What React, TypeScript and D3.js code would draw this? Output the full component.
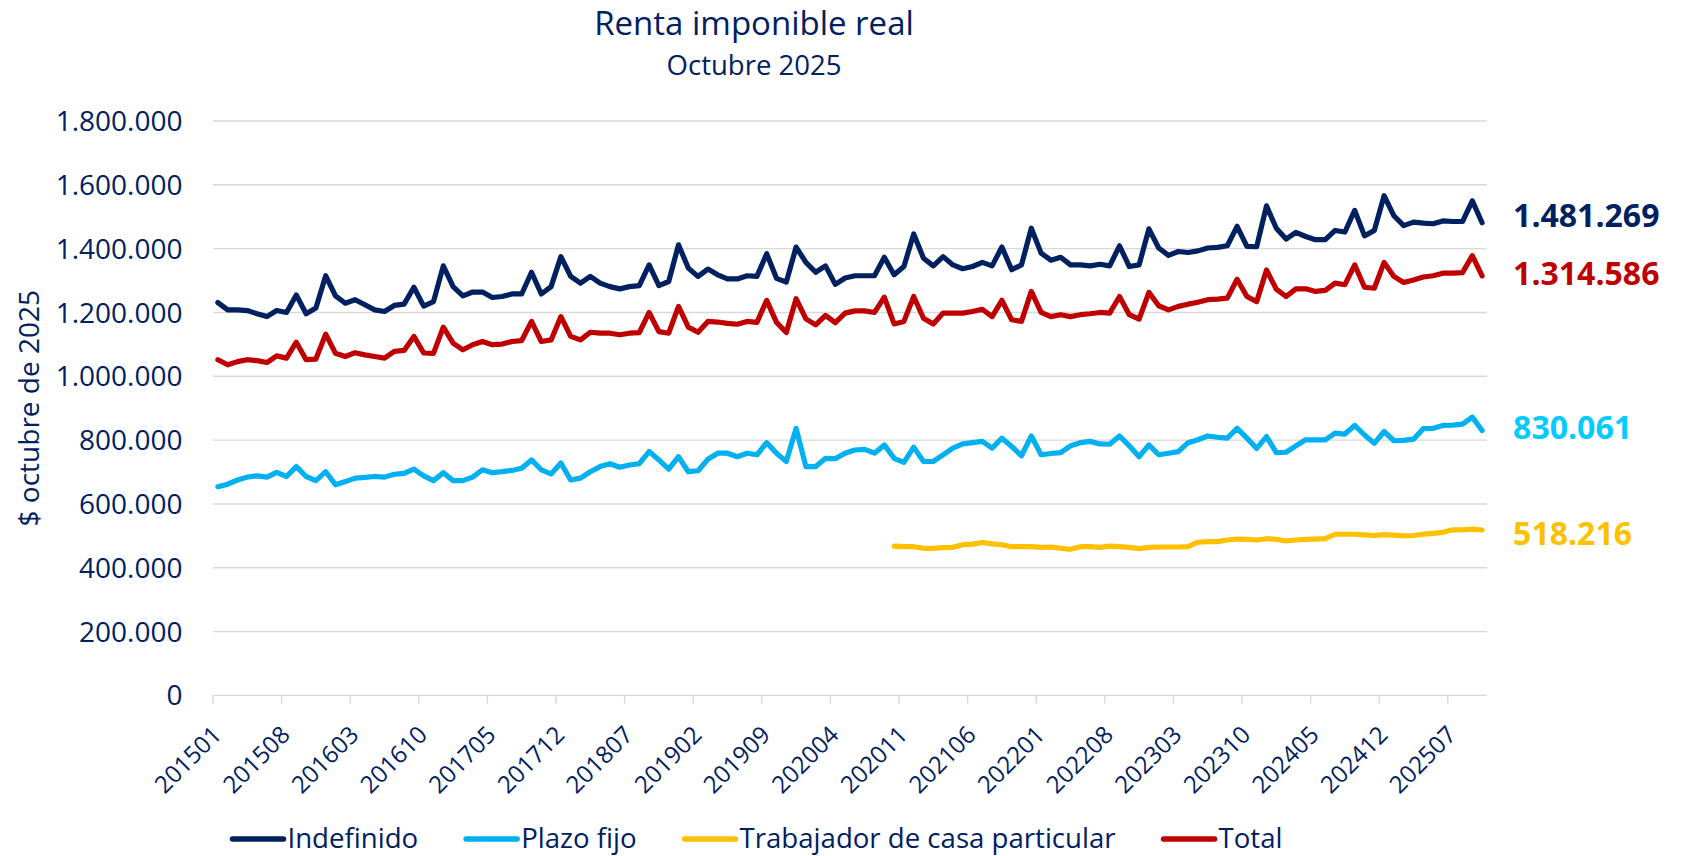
import React, { useEffect, useRef } from 'react';
import * as d3 from 'd3';

// monthly periods 201501 .. 202510
const periods: string[] = [];
for (let year = 2015; year <= 2025; year++) {
  for (let month = 1; month <= 12; month++) {
    if (year === 2025 && month > 10) break;
    periods.push(`${year}${month < 10 ? '0' : ''}${month}`);
  }
}

const tickLabels = [
  '201501', '201508', '201603', '201610', '201705', '201712', '201807', '201902', '201909', '202004',
  '202011', '202106', '202201', '202208', '202303', '202310', '202405', '202412', '202507',
];

const yTicks = [0, 200000, 400000, 600000, 800000, 1000000, 1200000, 1400000, 1600000, 1800000];

const indefinido = [
  1231000, 1208000, 1208000, 1206000, 1196000, 1187000, 1206000, 1200000, 1255000, 1196000,
  1214000, 1315000, 1252000, 1229000, 1240000, 1224000, 1208000, 1203000, 1222000, 1226000,
  1279000, 1220000, 1234000, 1346000, 1281000, 1252000, 1264000, 1264000, 1247000, 1250000,
  1258000, 1258000, 1326000, 1258000, 1281000, 1375000, 1313000, 1292000, 1313000, 1292000,
  1281000, 1274000, 1281000, 1284000, 1349000, 1284000, 1297000, 1412000, 1339000, 1313000,
  1336000, 1318000, 1305000, 1305000, 1315000, 1313000, 1384000, 1307000, 1295000, 1405000,
  1357000, 1326000, 1346000, 1288000, 1308000, 1315000, 1315000, 1315000, 1373000, 1318000,
  1344000, 1446000, 1370000, 1346000, 1375000, 1349000, 1337000, 1344000, 1357000, 1346000,
  1405000, 1334000, 1349000, 1464000, 1386000, 1364000, 1373000, 1349000, 1349000, 1346000,
  1351000, 1346000, 1409000, 1344000, 1349000, 1462000, 1402000, 1379000, 1391000, 1388000,
  1393000, 1402000, 1404000, 1409000, 1470000, 1407000, 1406000, 1534000, 1464000, 1430000,
  1451000, 1438000, 1428000, 1428000, 1457000, 1452000, 1520000, 1440000, 1457000, 1566000,
  1503000, 1472000, 1483000, 1480000, 1478000, 1487000, 1485000, 1485000, 1550000, 1481269,
];

const plazoFijo = [
  654000, 662000, 675000, 684000, 688000, 684000, 699000, 686000, 717000, 686000,
  673000, 701000, 660000, 670000, 681000, 683000, 686000, 684000, 693000, 696000,
  709000, 688000, 673000, 698000, 673000, 673000, 684000, 707000, 698000, 701000,
  705000, 712000, 738000, 707000, 694000, 728000, 675000, 681000, 701000, 717000,
  726000, 715000, 722000, 726000, 764000, 738000, 709000, 748000, 701000, 704000,
  740000, 759000, 759000, 748000, 759000, 754000, 792000, 759000, 733000, 837000,
  717000, 717000, 743000, 742000, 759000, 769000, 771000, 759000, 785000, 743000,
  730000, 778000, 733000, 733000, 754000, 775000, 788000, 792000, 796000, 775000,
  806000, 780000, 751000, 813000, 754000, 758000, 761000, 782000, 792000, 796000,
  788000, 787000, 813000, 782000, 748000, 785000, 754000, 759000, 764000, 792000,
  801000, 813000, 809000, 806000, 837000, 806000, 774000, 811000, 761000, 762000,
  782000, 801000, 801000, 801000, 822000, 819000, 846000, 816000, 790000, 827000,
  798000, 799000, 803000, 836000, 837000, 846000, 847000, 850000, 872000, 830061,
];

// series only starts in 202010
const casaStart = '202010';
const casaParticular = [
  468000, 466000, 466000, 461000, 461000, 463000, 464000, 472000, 474000, 479000,
  475000, 472000, 466000, 466000, 466000, 464000, 465000, 461000, 458000, 466000,
  466000, 464000, 468000, 466000, 464000, 460000, 464000, 465000, 465000, 465000,
  466000, 480000, 482000, 482000, 487000, 490000, 489000, 487000, 491000, 489000,
  484000, 487000, 489000, 490000, 491000, 505000, 505000, 505000, 503000, 501000,
  504000, 502000, 500000, 501000, 505000, 508000, 511000, 519000, 519000, 521000,
  518216,
];

const total = [
  1052000, 1036000, 1046000, 1052000, 1049000, 1043000, 1064000, 1057000, 1107000, 1052000,
  1054000, 1132000, 1072000, 1062000, 1074000, 1067000, 1062000, 1057000, 1078000, 1081000,
  1125000, 1073000, 1072000, 1154000, 1104000, 1083000, 1099000, 1109000, 1099000, 1101000,
  1109000, 1112000, 1172000, 1109000, 1114000, 1187000, 1125000, 1114000, 1138000, 1135000,
  1135000, 1130000, 1135000, 1137000, 1200000, 1140000, 1135000, 1219000, 1154000, 1138000,
  1172000, 1170000, 1166000, 1163000, 1172000, 1169000, 1238000, 1169000, 1137000, 1243000,
  1180000, 1161000, 1191000, 1168000, 1198000, 1205000, 1205000, 1200000, 1248000, 1164000,
  1172000, 1250000, 1182000, 1164000, 1198000, 1198000, 1198000, 1203000, 1210000, 1187000,
  1238000, 1177000, 1172000, 1266000, 1200000, 1187000, 1193000, 1187000, 1193000, 1196000,
  1200000, 1198000, 1250000, 1193000, 1179000, 1263000, 1221000, 1208000, 1219000, 1226000,
  1232000, 1240000, 1242000, 1245000, 1304000, 1250000, 1234000, 1333000, 1273000, 1250000,
  1274000, 1274000, 1266000, 1269000, 1292000, 1287000, 1349000, 1279000, 1276000, 1357000,
  1313000, 1294000, 1302000, 1311000, 1315000, 1323000, 1323000, 1325000, 1378000, 1314586,
];

const FONT = "'Open Sans', 'Noto Sans', sans-serif";
const NAVY = '#002060';

export default function App() {
  const ref = useRef<SVGSVGElement>(null);

  useEffect(() => {
    const svg = d3.select(ref.current);
    svg.selectAll('*').remove();

    const W = 1682;
    const H = 856;
    const plot = { left: 213, right: 1487, top: 121, bottom: 695.4 };

    const casaOffset = periods.indexOf(casaStart);
    const series = [
      { name: 'Indefinido', values: indefinido.map((v) => v as number | null), color: '#002060', label: '#002060', dy: -7 },
      { name: 'Plazo fijo', values: plazoFijo.map((v) => v as number | null), color: '#00B0F0', label: '#00CCFF', dy: -3 },
      {
        name: 'Trabajador de casa particular',
        values: periods.map((p, i) => (i >= casaOffset ? casaParticular[i - casaOffset] : null)),
        color: '#FFC000',
        label: '#FFC000',
        dy: 3,
      },
      { name: 'Total', values: total.map((v) => v as number | null), color: '#C00000', label: '#C00000', dy: -2 },
    ];

    const x = d3.scaleBand<string>().domain(periods).range([plot.left, plot.right]).padding(0);
    const cx = (p: string) => (x(p) as number) + x.bandwidth() / 2;
    const y = d3.scaleLinear().domain([0, 1800000]).range([plot.bottom, plot.top]);

    const locale = d3.formatLocale({ decimal: ',', thousands: '.', grouping: [3], currency: ['$', ''] });
    const fmt = locale.format(',');

    svg.attr('width', W).attr('height', H).style('font-family', FONT);
    svg.append('rect').attr('width', W).attr('height', H).attr('fill', '#fff');

    // title
    svg.append('text')
      .attr('x', 754).attr('y', 35)
      .attr('text-anchor', 'middle')
      .attr('font-size', 33)
      .attr('fill', NAVY)
      .text('Renta imponible real');
    svg.append('text')
      .attr('x', 754).attr('y', 75)
      .attr('text-anchor', 'middle')
      .attr('font-size', 27.5)
      .attr('fill', NAVY)
      .text('Octubre 2025');

    // gridlines
    svg.append('g')
      .selectAll('line')
      .data(yTicks.filter((t) => t > 0))
      .join('line')
      .attr('x1', plot.left).attr('x2', plot.right)
      .attr('y1', (d) => y(d)).attr('y2', (d) => y(d))
      .attr('stroke', '#D9D9D9').attr('stroke-width', 1.4);

    // y labels
    svg.append('g')
      .selectAll('text')
      .data(yTicks)
      .join('text')
      .attr('x', 182.5)
      .attr('y', (d) => y(d))
      .attr('dy', '0.36em')
      .attr('text-anchor', 'end')
      .attr('font-size', 28)
      .attr('fill', NAVY)
      .text((d) => fmt(d));

    // y title
    svg.append('text')
      .attr('transform', `translate(39, ${(plot.top + plot.bottom) / 2}) rotate(-90)`)
      .attr('text-anchor', 'middle')
      .attr('font-size', 28)
      .attr('fill', NAVY)
      .text('$ octubre de 2025');

    // x axis
    const xa = svg.append('g');
    xa.append('line')
      .attr('x1', plot.left).attr('x2', plot.right)
      .attr('y1', plot.bottom).attr('y2', plot.bottom)
      .attr('stroke', '#D9D9D9').attr('stroke-width', 1.4);
    xa.selectAll('line.tick')
      .data(tickLabels)
      .join('line')
      .attr('class', 'tick')
      .attr('x1', (d) => x(d) as number).attr('x2', (d) => x(d) as number)
      .attr('y1', plot.bottom).attr('y2', plot.bottom + 8)
      .attr('stroke', '#D9D9D9').attr('stroke-width', 1.4);
    xa.selectAll('text')
      .data(tickLabels)
      .join('text')
      .attr('transform', (d) => `translate(${cx(d) + 5}, ${plot.bottom + 41}) rotate(-45)`)
      .attr('text-anchor', 'end')
      .attr('font-size', 24)
      .attr('fill', NAVY)
      .text((d) => d);

    // lines
    const line = d3.line<number | null>()
      .defined((d) => d !== null)
      .x((_, i) => cx(periods[i]))
      .y((d) => y(d as number));

    svg.append('g')
      .selectAll('path')
      .data(series)
      .join('path')
      .attr('d', (s) => line(s.values))
      .attr('fill', 'none')
      .attr('stroke', (s) => s.color)
      .attr('stroke-width', 5.2)
      .attr('stroke-linejoin', 'round')
      .attr('stroke-linecap', 'round');

    // end labels
    const last = periods[periods.length - 1];
    svg.append('g')
      .selectAll('text')
      .data(series)
      .join('text')
      .attr('x', cx(last) + 31)
      .attr('y', (s) => y(s.values[s.values.length - 1] as number) + s.dy)
      .attr('dy', '0.36em')
      .attr('font-size', 32)
      .attr('font-weight', 700)
      .attr('fill', (s) => s.label)
      .text((s) => fmt(s.values[s.values.length - 1] as number));

    // legend (kept just inside the bottom edge so descenders are not clipped)
    const lg = svg.append('g');
    let pos = 0;
    series.forEach((s) => {
      const item = lg.append('g').attr('transform', `translate(${pos}, 0)`);
      item.append('line')
        .attr('x1', 3).attr('x2', 54)
        .attr('y1', 839).attr('y2', 839)
        .attr('stroke', s.color).attr('stroke-width', 5.5)
        .attr('stroke-linecap', 'round');
      const t = item.append('text')
        .attr('x', 58).attr('y', 848)
        .attr('font-size', 27.6)
        .attr('fill', NAVY)
        .text(s.name);
      const w = (t.node() as SVGTextElement).getComputedTextLength();
      pos += 58 + w + 45;
    });
    const legendWidth = pos - 45;
    lg.attr('transform', `translate(${756 - legendWidth / 2}, 0)`);
  }, []);

  return (
    <svg ref={ref} style={{ position: 'absolute', left: 0, top: 0, display: 'block' }} />
  );
}
